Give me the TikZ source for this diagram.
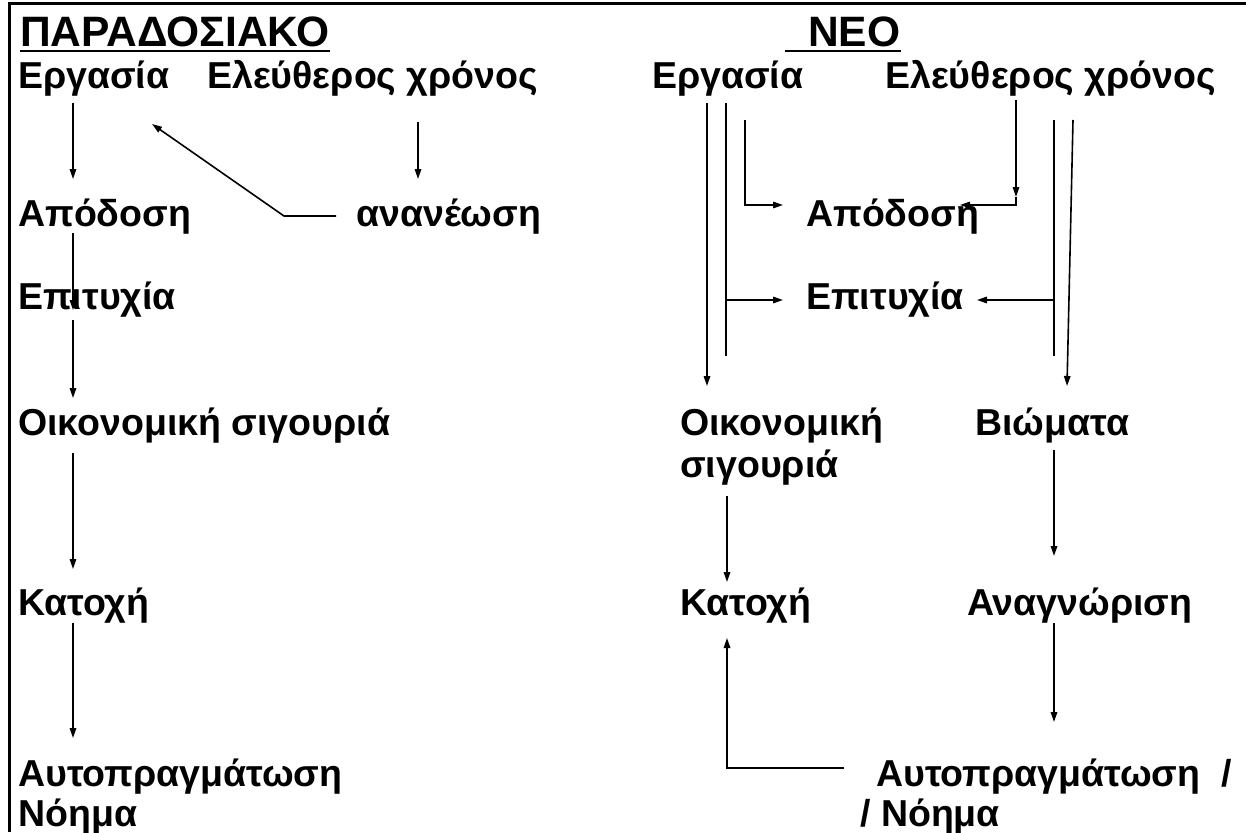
\documentclass[tikz,border=0pt]{standalone}
\usepackage{fontspec}
\setmainfont{Liberation Sans}
\usetikzlibrary{arrows.meta}
\tikzset{
  lbl/.style={anchor=base west, inner sep=0pt, font=\fontsize{37.5}{44}\bfseries\selectfont},
  ttl/.style={anchor=base west, inner sep=0pt, font=\fontsize{42.5}{50}\bfseries\selectfont},
  conn/.style={line width=1.6pt},
  arr/.style={conn, -{Triangle[length=10pt,width=6.5pt]}},
  frame/.style={line width=3pt},
  uline/.style={line width=2pt}
}
\begin{document}
\begin{tikzpicture}[x=1pt,y=-1pt]
\useasboundingbox (0,0) rectangle (1246,832);
% frame
\coordinate (fTL) at (9,4);
\coordinate (fTR) at (1246,4);
\coordinate (fBL) at (9,832);
\draw[frame] (fTR) -- (fTL) -- (fBL);

% ---- left column ----
\node[ttl] (tL) at (20,47) {ΠΑΡΑΔΟΣΙΑΚΟ};
\draw[uline] ([yshift=-4pt]tL.base west) -- ([yshift=-4pt]tL.base east);
\node[lbl] (ergL) at (18,89) {Εργασία};
\node[lbl] (elL) at (207,89) {Ελεύθερος χρόνος};
\node[lbl] (apoL) at (18,226) {Απόδοση};
\node[lbl] (anaL) at (356,226) {ανανέωση};
\node[lbl] (epiL) at (18,309) {Επιτυχία};
\node[lbl] (oikL) at (18,435) {Οικονομική σιγουριά};
\node[lbl] (katL) at (18,615) {Κατοχή};
\node[lbl] (autL) at (18,786) {Αυτοπραγμάτωση};
\node[lbl] (noiL) at (18,826) {Νόημα};

\coordinate (a1s) at (73,103); \coordinate (a1e) at (73,179);
\draw[arr] (a1s) -- (a1e);
\coordinate (a2s) at (418,122); \coordinate (a2e) at (418,179);
\draw[arr] (a2s) -- (a2e);
\coordinate (a3s) at (336,216); \coordinate (a3m) at (284,216); \coordinate (a3e) at (152,124);
\draw[arr] (a3s) -- (a3m) -- (a3e);
\coordinate (a4s) at (73,233); \coordinate (a4e) at (73,310);
\draw[arr] (a4s) -- (a4e);
\coordinate (a5s) at (73,320); \coordinate (a5e) at (73,398);
\draw[arr] (a5s) -- (a5e);
\coordinate (a6s) at (73,453); \coordinate (a6e) at (73,569);
\draw[arr] (a6s) -- (a6e);
\coordinate (a7s) at (73,623); \coordinate (a7e) at (73,738);
\draw[arr] (a7s) -- (a7e);

% ---- right column ----
\node[ttl] (tR) at (808,47) {ΝΕΟ};
\coordinate (uR) at (785,51);
\draw[uline] (uR) -- (uR -| tR.east);
\node[lbl] (ergR) at (652,89) {Εργασία};
\node[lbl] (elR) at (885,89) {Ελεύθερος χρόνος};
\node[lbl] (apoR) at (806,226) {Απόδοση};
\node[lbl] (epiR) at (806,309) {Επιτυχία};
\node[lbl] (oikR) at (680,435) {Οικονομική};
\node[lbl] (sigR) at (680,477) {σιγουριά};
\node[lbl] (bioR) at (975,435) {Βιώματα};
\node[lbl] (katR) at (680,615) {Κατοχή};
\node[lbl] (anaR) at (967,615) {Αναγνώριση};
\node[lbl] (autR) at (876,786) {Αυτοπραγμάτωση \ /};
\node[lbl] (noiR) at (860,826) {/ Νόημα};

\coordinate (b1s) at (707,103); \coordinate (b1e) at (707,386);
\draw[arr] (b1s) -- (b1e);
\coordinate (b2s) at (726,103); \coordinate (b2e) at (726,356);
\draw[conn] (b2s) -- (b2e);
\coordinate (b2m) at (726,300); \coordinate (b2t) at (783,300);
\draw[arr] (b2m) -- (b2t);
\coordinate (b3s) at (745,120); \coordinate (b3m) at (745,205); \coordinate (b3e) at (783,205);
\draw[arr] (b3s) -- (b3m) -- (b3e);
\coordinate (b4s) at (1016,100); \coordinate (b4e) at (1016,197);
\draw[arr] (b4s) -- (b4e);
\coordinate (b4c) at (1016,205); \coordinate (b4t) at (960,205);
\draw[arr] (b4e) -- (b4c) -- (b4t);
\coordinate (b5s) at (1054,120); \coordinate (b5e) at (1054,356);
\draw[conn] (b5s) -- (b5e);
\coordinate (b5m) at (1054,300); \coordinate (b5t) at (977,300);
\draw[arr] (b5m) -- (b5t);
\coordinate (b6s) at (1073,120); \coordinate (b6e) at (1067,386);
\draw[arr] (b6s) -- (b6e);
\coordinate (b7s) at (727,496); \coordinate (b7e) at (727,582);
\draw[arr] (b7s) -- (b7e);
\coordinate (b8s) at (1054,450); \coordinate (b8e) at (1054,556);
\draw[arr] (b8s) -- (b8e);
\coordinate (b9s) at (1054,623); \coordinate (b9e) at (1054,722);
\draw[arr] (b9s) -- (b9e);
\coordinate (b10s) at (844,768); \coordinate (b10m) at (727,768); \coordinate (b10e) at (727,638);
\draw[arr] (b10s) -- (b10m) -- (b10e);
\end{tikzpicture}
\end{document}
